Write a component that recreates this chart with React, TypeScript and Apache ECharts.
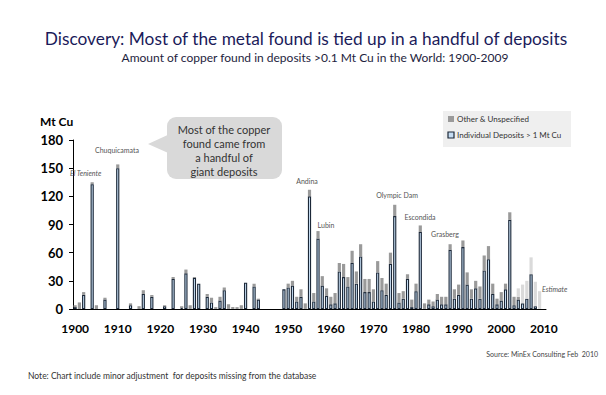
import React, { useEffect, useRef } from "react";
import * as echarts from "echarts";

const years: string[] = [];
for (let y = 1900; y <= 2010; y++) years.push(String(y));

const yTicks = [0, 30, 60, 90, 120, 150, 180];

// Individual deposits > 1 Mt Cu (Mt Cu), 1900..2010
const individual = [
  2, 0, 15, 0, 133, 0, 0, 10, 0, 0,
  150, 0, 0, 4, 0, 0, 16, 0, 13, 0,
  0, 3, 0, 32, 0, 1, 38, 0, 33, 27,
  0, 13, 7, 0, 9, 20, 0, 0, 0, 0,
  28, 0, 24, 10, 0, 0, 0, 0, 0, 21,
  23, 25, 8, 13, 0, 120, 8, 75, 25, 14,
  5, 6, 40, 34, 24, 49, 27, 56, 18, 18,
  8, 39, 20, 15, 48, 99, 7, 11, 32, 2,
  19, 82, 0, 5, 3, 10, 5, 5, 63, 11,
  15, 66, 26, 11, 22, 11, 41, 53, 16, 5,
  9, 21, 95, 4, 10, 6, 11, 37, 3, 0,
  0,
];

// Other & Unspecified (Mt Cu)
const other = [
  2, 7, 3, 0, 2, 4, 0, 2, 0, 0,
  4, 0, 0, 2, 0, 3, 4, 0, 2, 0,
  0, 1, 0, 2, 0, 2, 4, 4, 1, 0,
  0, 3, 5, 2, 4, 3, 5, 2, 2, 4,
  0, 0, 3, 1, 0, 0, 0, 0, 0, 0,
  4, 5, 5, 8, 6, 7, 9, 8, 10, 8,
  8, 11, 9, 14, 10, 13, 13, 13, 14, 14,
  13, 12, 13, 12, 12, 12, 10, 8, 5, 8,
  8, 7, 6, 5, 5, 6, 8, 8, 6, 10,
  11, 7, 13, 10, 8, 13, 16, 14, 11, 6,
  9, 6, 8, 9, 3, 0, 0, 0, 0, 0,
  0,
];

// Estimate for recent years (Mt Cu)
const estimate = [
  0, 0, 0, 0, 0, 0, 0, 0, 0, 0,
  0, 0, 0, 0, 0, 0, 0, 0, 0, 0,
  0, 0, 0, 0, 0, 0, 0, 0, 0, 0,
  0, 0, 0, 0, 0, 0, 0, 0, 0, 0,
  0, 0, 0, 0, 0, 0, 0, 0, 0, 0,
  0, 0, 0, 0, 0, 0, 0, 0, 0, 0,
  0, 0, 0, 0, 0, 0, 0, 0, 0, 0,
  0, 0, 0, 0, 0, 0, 0, 0, 0, 0,
  0, 0, 0, 0, 0, 0, 0, 0, 0, 0,
  0, 0, 0, 0, 0, 0, 0, 0, 0, 0,
  0, 0, 0, 0, 9, 20, 19, 18, 26, 19,
  0,
];

const deposits = [
  { name: "Chuquicamata", x: 117, y: 150, italic: false, align: "center" },
  { name: "El Teniente", x: 70, y: 173, italic: true, align: "left" },
  { name: "Andina", x: 307, y: 181, italic: false, align: "center" },
  { name: "Lubin", x: 326, y: 225, italic: false, align: "center" },
  { name: "Olympic Dam", x: 397, y: 195, italic: false, align: "center" },
  { name: "Escondida", x: 420, y: 217, italic: false, align: "center" },
  { name: "Grasberg", x: 445, y: 234, italic: false, align: "center" },
  { name: "Estimate", x: 542, y: 289, italic: true, align: "left" },
];

const calloutLines = ["Most of the copper", "found came from", "a handful of", "giant deposits"];

const FONT = "Lato, 'Open Sans', sans-serif";
const nz = (a: number[]) => a.map((v) => (v === 0 ? null : v));

export default function App() {
  const ref = useRef<HTMLDivElement>(null);
  useEffect(() => {
    if (!ref.current) return;
    const chart = echarts.init(ref.current, undefined, { renderer: "svg" });
    const graphics: any[] = [
      {
        type: "text", x: 306, y: 38,
        style: { text: "Discovery: Most of the metal found is tied up in a handful of deposits", font: `17.3px ${FONT}`, fill: "#1b1b5a", textAlign: "center", textVerticalAlign: "middle" },
      },
      {
        type: "text", x: 315, y: 57,
        style: { text: "Amount of copper found in deposits >0.1 Mt Cu in the World: 1900-2009", font: `12px ${FONT}`, fill: "#1e1e3e", textAlign: "center", textVerticalAlign: "middle" },
      },
      {
        type: "text", x: 40, y: 121,
        style: { text: "Mt Cu", font: `bold 12px ${FONT}`, fill: "#000", textAlign: "left", textVerticalAlign: "middle" },
      },
      // callout
      { type: "polygon", shape: { points: [[148, 144], [172, 133], [175, 156]] }, style: { fill: "#d9d9d9" } },
      { type: "rect", shape: { x: 167, y: 117, width: 115, height: 62, r: 9 }, style: { fill: "#d9d9d9" } },
      ...calloutLines.map((t, i) => ({
        type: "text", x: 224, y: 129 + i * 14,
        style: { text: t, font: `11px ${FONT}`, fill: "#333", textAlign: "center", textVerticalAlign: "middle" },
      })),
      // legend
      { type: "rect", shape: { x: 443, y: 111, width: 128, height: 36 }, style: { fill: "#efefef" } },
      { type: "rect", shape: { x: 448, y: 116, width: 6, height: 6 }, style: { fill: "#9a9a9a" } },
      { type: "text", x: 457, y: 119, style: { text: "Other & Unspecified", font: `8px ${FONT}`, fill: "#333", textVerticalAlign: "middle" } },
      { type: "rect", shape: { x: 448, y: 132, width: 6, height: 6 }, style: { fill: "#c5dcf2", stroke: "#1c2838", lineWidth: 1.2 } },
      { type: "text", x: 457, y: 135, style: { text: "Individual Deposits > 1 Mt Cu", font: `8px ${FONT}`, fill: "#333", textVerticalAlign: "middle" } },
      ...deposits.map((d) => ({
        type: "text", x: d.x, y: d.y, z: 10,
        style: { text: d.name, font: `${d.italic ? "italic " : ""}7px ${FONT}`, fill: "#555", textAlign: d.align, textVerticalAlign: "middle" },
      })),
      {
        type: "text", x: 598, y: 354,
        style: { text: "Source: MinEx Consulting Feb  2010", font: `7px ${FONT}`, fill: "#444", textAlign: "right", textVerticalAlign: "middle" },
      },
      {
        type: "text", x: 28, y: 376,
        style: { text: "Note: Chart include minor adjustment  for deposits missing from the database", font: `8.5px ${FONT}`, fill: "#333", textAlign: "left", textVerticalAlign: "middle" },
      },
    ];
    chart.setOption({
      animation: false,
      backgroundColor: "#fff",
      grid: { left: 73, right: 60, top: 140, bottom: 86 },
      xAxis: {
        type: "category",
        data: years,
        axisLine: { lineStyle: { color: "#000", width: 1 } },
        axisTick: { interval: 4, length: 4, lineStyle: { color: "#000" } },
        axisLabel: { interval: 9, margin: 13, fontFamily: FONT, fontWeight: "bold", fontSize: 12, color: "#000" },
      },
      yAxis: {
        type: "value",
        min: yTicks[0],
        max: yTicks[yTicks.length - 1],
        interval: 30,
        splitLine: { show: false },
        axisLine: { show: true, lineStyle: { color: "#000", width: 1 } },
        axisTick: { show: true, length: 4, lineStyle: { color: "#000" } },
        axisLabel: { margin: 10, fontFamily: FONT, fontWeight: "bold", fontSize: 13, color: "#000" },
      },
      series: [
        {
          name: "Individual Deposits > 1 Mt Cu", type: "bar", stack: "t", data: nz(individual),
          barCategoryGap: "25%",
          itemStyle: { color: "#c5dcf2", borderColor: "#1c2838", borderWidth: 1.1 },
        },
        {
          name: "Other & Unspecified", type: "bar", stack: "t", data: nz(other),
          itemStyle: { color: "#9a9a9a" },
        },
        {
          name: "Estimate", type: "bar", stack: "t", data: nz(estimate),
          itemStyle: { color: "#dadada" },
        },
      ],
      graphic: graphics,
    });
    return () => chart.dispose();
  }, []);
  return <div ref={ref} style={{ position: "fixed", left: 0, top: 0, width: 606, height: 395 }} />;
}
